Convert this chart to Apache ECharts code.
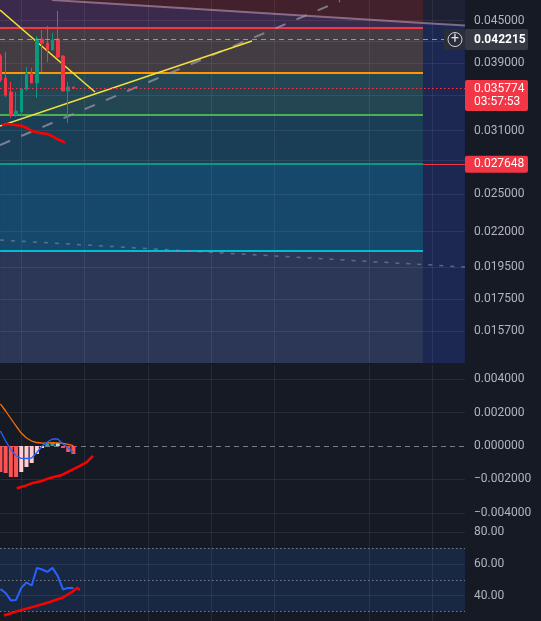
<!DOCTYPE html>
<html><head><meta charset="utf-8">
<script src="https://cdn.jsdelivr.net/npm/echarts@6/dist/echarts.min.js"></script>
<style>html,body{margin:0;padding:0;background:#161a25;}#c{width:541px;height:621px;}</style>
</head><body><div id="c"></div>
<script>
// ---------- DATA ----------
const barIndex   = [0,1,2,3,4,5,6,7,8,9,10,11,12,13,14];
const openPrice  = [0.03992,0.03705,0.03533,0.03268,0.03301,0.03569,0.03768,0.03643,0.04229,0.04172,0.04074,0.04229,0.03992,0.03545,0.03593];
const closePrice = [0.03680,0.03497,0.03268,0.03312,0.03569,0.03768,0.03643,0.04229,0.04172,0.04074,0.04215,0.03979,0.03545,0.03593,0.035774];
const lowPrice   = [0.03655,0.03474,0.03235,0.03246,0.03268,0.03545,0.03643,0.03462,0.03781,0.03912,0.04074,0.03965,0.03545,0.03180,0.035774];
const highPrice  = [0.04019,0.04047,0.03655,0.03533,0.03581,0.03846,0.03833,0.04272,0.04360,0.04420,0.04316,0.04651,0.04006,0.03655,0.03593];

const macdHist   = [-0.001557,-0.001617,-0.001856,-0.001856,-0.001557,-0.001257,-0.001018,-0.000479,-0.00012,0.00012,0.00018,0.00017,-0.00012,-0.000359,-0.000479];
const macdLine   = [0.000898,0.000299,-0.00021,-0.000599,-0.000737,-0.000749,-0.000719,-0.000389,0,0.00024,0.000419,0.000419,0.00012,-0.00012,-0.000377];
const signalLine = [0.002515,0.002096,0.001647,0.001198,0.000778,0.000479,0.000299,0.00021,0.000168,0.00018,0.000198,0.000192,0.000162,0.000102,0.000018];
const rsiValues  = [44.2,41.7,37.0,37.3,44.9,48.3,46.4,57.5,56.5,55.0,57.5,52.4,43.9,44.9,44.9];

const priceTicks      = [0.045,0.042,0.039,0.035,0.031,0.028,0.025,0.022,0.0195,0.0175,0.0157];
const priceTickLabels = ['0.045000','','0.039000','','0.031000','','0.025000','0.022000','0.019500','0.017500','0.015700'];
const macdTicks       = [0.004,0.002,-0.002,-0.004];
const macdTickLabels  = ['0.004000','0.002000','\u22120.002000','\u22120.004000'];
const macdZeroLabel   = '0.000000';
const rsiTicks        = [80,60,40];
const rsiTickLabels   = ['80.00','60.00','40.00'];
const rsiLevels       = [70,50,30];
const timeGridIndex   = [3.95,16.03,28.31,40.39,52.47,70.7,82.78];

const levelPrices   = [0.043899,0.037721,0.032677,0.027648,0.020618];
const lastPrice     = 0.035774;
const lastPriceText = '0.035774';
const lastPriceTime = '03:57:53';
const crosshairPrice = 0.042215;
const crosshairText  = '0.042215';
const alertPrice     = 0.027648;
const alertText      = '0.027648';

// drawings (bar index, value)
const yellowDown  = [[-0.07,0.046664],[18.14,0.035330]];
const yellowUp    = [[-0.07,0.031480],[48.25,0.042002]];
const grayTrend1  = [[-0.07,0.029514],[65.13,0.048111]];
const grayTrend2  = [[-0.07,0.021380],[89.10,0.019509]];
const topTrend    = [[9.90,0.048270],[81.05,0.044665],[89.10,0.044273]];
const redLowTrend = [[0.31,0.031587],[1.46,0.031694],[2.80,0.031587],[4.14,0.031480],[5.10,0.031267],[6.06,0.030951],[7.59,0.030741],[8.94,0.030637],[9.90,0.030430],[10.86,0.030122],[11.81,0.029918],[12.39,0.029716]];
const macdRedTrend = [[3.13,-0.002525],[4.72,-0.002388],[6.25,-0.002209],[7.98,-0.00209],[9.51,-0.00191],[11.81,-0.001731],[13.35,-0.001493],[15.27,-0.001194],[16.61,-0.000955],[17.76,-0.000597]];
const rsiRedTrend  = [[0.69,27.5],[3.76,30.7],[6.25,32.9],[9.51,36.0],[10.85,37.6],[11.81,38.5],[12.77,40.4],[13.73,42.3],[14.69,44.9],[15.27,43.6]];

// ---------- LAYOUT ----------
const X_MIN=-0.077, X_MAX=89.106, ZONE_X=81.05, CROSS_END=85.08, BTN_X=87.19;
const PRICE_MIN=0.014085, PRICE_MAX=0.048275;
const MACD_MIN=-0.00425, MACD_MAX=0.00485, RSI_MIN=24, RSI_MAX=89;
const LAST_LABEL_ANCHOR=0.034912, BTN_BOX_LOW=0.040741, BTN_BOX_HIGH=0.04375;
const xa=X_MIN+0.005, xb=X_MAX-0.005;
const FONT='Roboto, "Noto Sans", sans-serif';
const gridLineStyle={color:'rgba(255,255,255,0.07)',width:1,type:'solid'};
const axisText={color:'#b2b5be',fontSize:12,fontFamily:FONT};
const bandEdges=[PRICE_MAX*0.9999].concat(levelPrices,[PRICE_MIN*1.0001]);
const bandColors=['#3b2a4c','#443c43','#244652','#1b3e57','#15486b','#2c3757'];
const levelColors=['#f23645','#ff9800','#4caf50','#089981','#00bcd4'];

function hGrid(ticks,labels){
  return ticks.map((v,i)=>({yAxis:v,lineStyle:gridLineStyle,
    label:labels[i]?Object.assign({show:true,position:'end',distance:9,formatter:labels[i]},axisText):{show:false}}));
}
function vGrid(){return timeGridIndex.map(v=>({xAxis:v,lineStyle:gridLineStyle,label:{show:false}}));}
function boxLabel(text,bg,pad,lh,bold){
  return {show:true,position:'end',distance:0,formatter:text,backgroundColor:bg,color:'#ffffff',
    padding:pad,width:49,lineHeight:lh,fontSize:12,fontFamily:FONT,fontWeight:bold?'bold':'normal',borderRadius:2,align:'left'};
}
function drawing(data,color,width,type,xi,yi,z){
  return {type:'line',xAxisIndex:xi,yAxisIndex:yi,data:data,symbol:'none',silent:true,z:z,
    lineStyle:{color:color,width:width,type:type||'solid'}};
}
function mline(z,data){return {silent:true,z:z,precision:10,symbol:['none','none'],data:data};}

const series=[];
// ---- main pane ----
const bandData=[];
for(let i=0;i<bandColors.length;i++){
  bandData.push([{coord:[xa,bandEdges[i]],itemStyle:{color:bandColors[i]}},{coord:[ZONE_X,bandEdges[i+1]]}]);
}
bandData.push([{coord:[ZONE_X,bandEdges[0]],itemStyle:{color:'#1c2852'}},{coord:[xb,bandEdges[bandEdges.length-1]]}]);
series.push({type:'line',xAxisIndex:0,yAxisIndex:0,data:[],silent:true,markArea:{silent:true,z:0,data:bandData}});
series.push({type:'line',xAxisIndex:0,yAxisIndex:0,data:topTrend.slice(0,2),symbol:'none',silent:true,z:1,
  lineStyle:{width:0},areaStyle:{origin:'end',color:'#42212c',opacity:1}});
series.push({type:'line',xAxisIndex:0,yAxisIndex:0,data:topTrend.slice(1,3),symbol:'none',silent:true,z:1,
  lineStyle:{width:0},areaStyle:{origin:'end',color:'#1e2133',opacity:1}});
series.push({type:'line',xAxisIndex:0,yAxisIndex:0,data:[],silent:true,
  markLine:mline(2,hGrid(priceTicks,priceTickLabels).concat(vGrid()))});
const levelData=levelPrices.map((v,i)=>[{coord:[xa,v],lineStyle:{color:levelColors[i],width:2,type:'solid'},label:{show:false}},{coord:[ZONE_X,v]}]);
levelData.push([{coord:[ZONE_X,alertPrice],lineStyle:{color:'#f23645',width:1,type:'solid'},label:boxLabel(alertText,'#f23645',[1,5,1,9],15,false)},{coord:[xb,alertPrice]}]);
series.push({type:'line',xAxisIndex:0,yAxisIndex:0,data:[],silent:true,markLine:mline(3,levelData)});
series.push(drawing(topTrend,'rgba(180,145,175,0.65)',2,'solid',0,0,4));
series.push(drawing(grayTrend2,'rgba(140,150,175,0.55)',1.5,[4,7],0,0,4));
series.push(drawing(grayTrend1,'rgba(150,152,165,0.75)',2,[11,12],0,0,4));
series.push(drawing(yellowDown,'#f2e33c',1.5,'solid',0,0,4));
series.push(drawing(yellowUp,'#f2e33c',1.5,'solid',0,0,4));
series.push(drawing(redLowTrend,'#ff0000',2.5,'solid',0,0,4));
series.push({type:'candlestick',xAxisIndex:0,yAxisIndex:0,z:5,silent:true,barWidth:3,
  encode:{x:0,y:[1,2,3,4]},
  data:barIndex.map(i=>[i,openPrice[i],closePrice[i],lowPrice[i],highPrice[i]]),
  itemStyle:{color:'#089981',color0:'#f23645',borderColor:'#089981',borderColor0:'#f23645',borderWidth:1}});
series.push({type:'line',xAxisIndex:0,yAxisIndex:0,data:[],silent:true,
  markLine:mline(6,[
    {yAxis:lastPrice,lineStyle:{color:'#f23645',width:1,type:[1.5,2.5]},label:{show:false}},
    {yAxis:LAST_LABEL_ANCHOR,lineStyle:{color:'rgba(0,0,0,0)',width:1},label:boxLabel(lastPriceText+'\n'+lastPriceTime,'#f23645',[3,5,2,9],13,false)},
    [{coord:[xa,crosshairPrice],lineStyle:{color:'#9598a1',width:1,type:[5,4]},label:{show:false}},{coord:[CROSS_END,crosshairPrice]}],
    {yAxis:crosshairPrice,lineStyle:{color:'rgba(0,0,0,0)',width:1},label:boxLabel(crosshairText,'#363a45',[3,5,3,9],15,true)}
  ]),
  markArea:{silent:true,z:6,data:[[{coord:[CROSS_END,BTN_BOX_LOW],itemStyle:{color:'#2a2e39'}},{coord:[xb,BTN_BOX_HIGH]}]]},
  markPoint:{silent:true,z:7,data:[{coord:[BTN_X,crosshairPrice],symbol:'circle',symbolSize:14,
    itemStyle:{color:'rgba(0,0,0,0)',borderColor:'#d1d4dc',borderWidth:1},
    label:{show:true,position:'inside',formatter:'+',color:'#e0e3eb',fontSize:14,lineHeight:14,fontFamily:FONT}}]}
});

// ---- MACD pane ----
const macdGrid=hGrid(macdTicks,macdTickLabels).concat(vGrid());
macdGrid.push({yAxis:0,lineStyle:{color:'#787b86',width:1,type:[5,4]},
  label:Object.assign({show:true,position:'end',distance:9,formatter:macdZeroLabel},axisText)});
series.push({type:'line',xAxisIndex:1,yAxisIndex:1,data:[],silent:true,markLine:mline(1,macdGrid)});
function histColor(i){
  const v=macdHist[i], p=i>0?macdHist[i-1]:v;
  if(v>=0) return v>=p?'#26a69a':'#b2dfdb';
  return v<=p?'#ff5252':'#ffcdd2';
}
series.push({type:'bar',xAxisIndex:1,yAxisIndex:1,z:2,silent:true,barWidth:4,
  data:barIndex.map(i=>({value:[i,macdHist[i]],itemStyle:{color:histColor(i)}}))});
series.push(drawing(barIndex.map(i=>[i,signalLine[i]]),'#ff6d00',1.3,'solid',1,1,3));
series.push(drawing(barIndex.map(i=>[i,macdLine[i]]),'#2962ff',1.3,'solid',1,1,3));
series.push(drawing(macdRedTrend,'#ff0000',2.5,'solid',1,1,4));

// ---- RSI pane ----
const rsiGrid=hGrid(rsiTicks,rsiTickLabels).concat(vGrid());
rsiLevels.forEach(v=>rsiGrid.push({yAxis:v,lineStyle:{color:'#787b86',width:1,type:[1.5,2.5]},label:{show:false}}));
series.push({type:'line',xAxisIndex:2,yAxisIndex:2,data:[],silent:true,
  markArea:{silent:true,z:0,data:[[{coord:[xa,rsiLevels[0]],itemStyle:{color:'#182843'}},{coord:[xb,rsiLevels[2]]}]]},
  markLine:mline(1,rsiGrid)});
series.push(drawing(barIndex.map(i=>[i,rsiValues[i]]),'#2962ff',2,'solid',2,2,3));
series.push(drawing(rsiRedTrend,'#ff0000',2.5,'solid',2,2,4));

const chart=echarts.init(document.getElementById('c'),null,{renderer:'canvas'});
chart.setOption({
  backgroundColor:'#161a25',
  animation:false,
  tooltip:{show:false},
  grid:[{left:0,top:0,width:465,height:363},{left:0,top:365,width:465,height:152},{left:0,top:518,width:465,height:103}],
  xAxis:[0,1,2].map(i=>({type:'value',gridIndex:i,min:X_MIN,max:X_MAX,show:false})),
  yAxis:[
    {type:'log',logBase:10,gridIndex:0,min:PRICE_MIN,max:PRICE_MAX,show:false},
    {type:'value',gridIndex:1,min:MACD_MIN,max:MACD_MAX,show:false},
    {type:'value',gridIndex:2,min:RSI_MIN,max:RSI_MAX,show:false}
  ],
  series:series
});
</script></body></html>
